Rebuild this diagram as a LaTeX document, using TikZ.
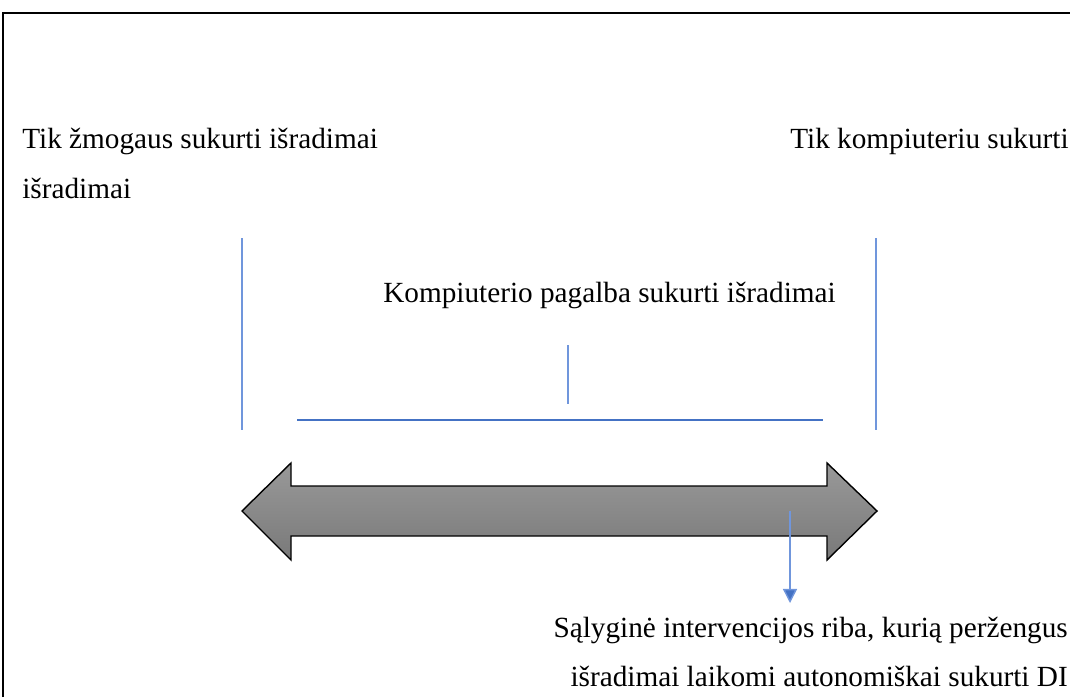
\documentclass[tikz,border=0pt]{standalone}
\usepackage{fontspec}
\setmainfont{Liberation Serif}
\usetikzlibrary{arrows.meta}
\definecolor{lineblue}{RGB}{68,114,196}
\definecolor{barblue}{RGB}{112,150,220}
\tikzset{
	label text/.style={inner sep=0pt, font=\fontsize{20.8}{25}\selectfont},
	mark line/.style={draw=barblue, line width=1.2pt},
}
\begin{document}
\begin{tikzpicture}[x=0.025cm, y=-0.025cm]
		\useasboundingbox (0,0) rectangle (1070,697);
		% frame
		\draw[line width=2pt] (3,697) -- (3,13) -- (1070,13);
		
		% texts
		\node[label text, anchor=base west] (human) at (22,148) {Tik žmogaus sukurti išradimai};
		\node[label text, anchor=base west] (human2) at (22,198) {išradimai};
		\node[label text, anchor=base east] (computer) at (1069,148) {Tik kompiuteriu sukurti};
		\node[label text, anchor=base] (assisted) at (609.5,302) {Kompiuterio pagalba sukurti išradimai};
		\node[label text, anchor=base east] (limit) at (1068,637) {Sąlyginė intervencijos riba, kurią peržengus};
		\node[label text, anchor=base east] (limit2) at (1068,686) {išradimai laikomi autonomiškai sukurti DI};
		
		% marks
		\coordinate (ltop) at (242,238);
		\coordinate (lbot) at (242,430);
		\coordinate (rtop) at (876,238);
		\coordinate (rbot) at (876,430);
		\coordinate (mtop) at (568,345);
		\coordinate (mbot) at (568,404);
		\coordinate (hl) at (297,420);
		\coordinate (hr) at (823,420);
		\draw[mark line] (ltop) -- (lbot);
		\draw[mark line] (rtop) -- (rbot);
		\draw[mark line] (mtop) -- (mbot);
		\draw[draw=lineblue, line width=1.2pt] (hl) -- (hr);
		
		% double arrow
		\draw[line width=1pt, top color=gray!80, bottom color=gray!95!black]
			(242,511) -- (291,463) -- (291,486) -- (827,486) -- (827,463)
			-- (877,511) -- (827,560) -- (827,536) -- (291,536)
			-- (291,560) -- cycle;
		
		% threshold
		\coordinate (tstart) at (790,511);
		\coordinate (tend) at (790,603);
		\draw[draw=barblue, line width=1pt, -{Triangle[length=10pt,width=10pt,fill=lineblue]}] (tstart) -- (tend);
\end{tikzpicture}
\end{document}
